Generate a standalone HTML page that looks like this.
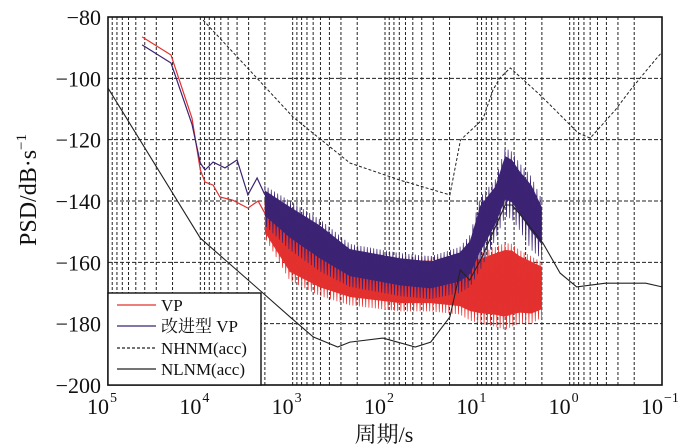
<!DOCTYPE html>
<html><head><meta charset="utf-8">
<style>
html,body{margin:0;padding:0;background:#fff;}
svg{display:block;}
text{font-family:"Liberation Serif","Noto Serif CJK SC","Noto Sans CJK SC",serif;fill:#111;}
</style></head>
<body>
<svg id="chart" width="700" height="448" viewBox="0 0 700 448"></svg>
<script>
// ---- data ----
const yTicks = [-80,-100,-120,-140,-160,-180,-200];
const xTickExps = [5,4,3,2,1,0,-1];
const vpLinePeriods = [42700,20800,12300,10000,8900,7270,6140,4480,3050,2370,2000];
const vpLineDb = [-86.5,-92.4,-113,-129.9,-133.8,-134.8,-138.7,-139.7,-142.3,-140,-144];
const ivpLinePeriods = [42700,20800,12300,10000,8900,7270,5400,4000,3050,2430,2000];
const ivpLineDb = [-89.1,-95,-115,-127.6,-129.9,-127.3,-129.2,-126.6,-138,-132.5,-138];
const bandPeriods = [2000,1070,505,240,69,32,15.5,12,9.3,6.4,5.0,4.2,3.5,2.6,2.0];
const vpUpper = [-140,-147,-152,-156,-158,-158,-159,-158,-157,-155,-153.7,-154,-156,-158,-160];
const vpLower = [-152,-166,-171,-174,-176,-176,-177,-179,-180,-181,-182,-181,-180,-180,-178];
const ivpUpper = [-135,-140,-146,-154,-157,-158,-155,-151,-138.7,-133,-122.7,-124,-127.6,-132,-139.7];
const ivpLower = [-148,-156,-163,-168,-171,-172,-170,-168,-162.5,-152.7,-145,-146,-149.5,-156,-159];
const nhnmPeriods = [9340,991,240,69,19.8,15.2,8.7,6.76,5.7,4.4,2.0,0.81,0.6,0.32,0.22,0.14,0.1];
const nhnmDb = [-81,-112.6,-127.6,-133.2,-138,-120.1,-113.3,-103.8,-99.9,-96.6,-106,-117.8,-119.5,-110.3,-103.8,-96.6,-91.4];
const nlnmPeriods = [100000,10000,2100,1070,600,325,240,105,47,32,19.8,15.3,12.1,8.9,5.0,4.2,3.4,1.95,1.27,0.84,0.41,0.15,0.1];
const nlnmDb = [-103.2,-152.1,-170,-177.8,-184.3,-187.6,-186,-184.7,-187.6,-186,-177.8,-162.5,-165.8,-158.3,-141.3,-141.3,-144.6,-153.7,-163.5,-168,-166.8,-166.8,-168];

// ---- layout ----
const L=108,R=662,T=17,B=385;
const NS='http://www.w3.org/2000/svg';
const svg=document.getElementById('chart');
function X(p){return L+(5-Math.log10(p))*(R-L)/6;}
function Y(v){return T+(-80-v)*(B-T)/120;}
function mk(tag,attrs,parent){const e=document.createElementNS(NS,tag);for(const k in attrs)e.setAttribute(k,attrs[k]);(parent||svg).appendChild(e);return e;}

const grid=mk('g',{});


for(let e=5;e>-1;e--){
  for(let m=1;m<10;m++){
    const p=m*Math.pow(10,e-1);
    const x=X(p);
    if(x<=L+0.5||x>=R-0.5)continue;
    const ln=mk('line',{x1:x,x2:x,y1:T,y2:B,stroke:'#222','stroke-width':1,'stroke-dasharray':'3,2'},grid);
    
    
  }
}
yTicks.forEach(v=>{
  const y=Y(v);
  if(v===-80||v===-200)return;
  const ln=mk('line',{x1:L,x2:R,y1:y,y2:y,stroke:'#222','stroke-width':1,'stroke-dasharray':'4,2'},grid);
  
  
});

function interp(arrX,arrY,lx){
  for(let i=0;i<arrX.length-1;i++){
    const a=Math.log10(arrX[i]),b=Math.log10(arrX[i+1]);
    if(lx<=a&&lx>=b){const t=(a-lx)/(a-b);return arrY[i]+t*(arrY[i+1]-arrY[i]);}
  }
  return arrY[arrY.length-1];
}
function drawBand(up,lo,color,name,fu,fl){
  const g=mk('g',{});
  
  
  let pts=[];
  bandPeriods.forEach((p,i)=>pts.push(X(p)+','+Y(up[i]+(lo[i]-up[i])*fu)));
  for(let i=bandPeriods.length-1;i>=0;i--)pts.push(X(bandPeriods[i])+','+Y(lo[i]-(lo[i]-up[i])*fl));
  const poly=mk('polygon',{points:pts.join(' '),fill:color,stroke:'none'},g);
  
  
  const x0=X(bandPeriods[0]),x1=X(bandPeriods[bandPeriods.length-1]);
  let d='';let k=0;
  for(let x=x0;x<=x1;x+=1.6,k++){
    const lp=5-(x-L)*6/(R-L);
    const u=interp(bandPeriods,up,lp),l=interp(bandPeriods,lo,lp);
    const v=(k%2===0)?u:l;
    d+=(k===0?'M':'L')+x.toFixed(1)+','+Y(v).toFixed(1);
  }
  const zz=mk('path',{d:d,fill:'none',stroke:color,'stroke-width':0.7},g);
  
  
}
function pathFrom(ps,vs){return ps.map((p,i)=>(i?'L':'M')+X(p).toFixed(1)+','+Y(vs[i]).toFixed(1)).join('');}

drawBand(vpUpper,vpLower,'#e3312f','vp-band',0.08,0.15);
const vpL=mk('path',{d:pathFrom(vpLinePeriods,vpLineDb),fill:'none',stroke:'#e3312f','stroke-width':1.2});


drawBand(ivpUpper,ivpLower,'#3c2373','improved-vp-band',0.12,0.25);
const ivL=mk('path',{d:pathFrom(ivpLinePeriods,ivpLineDb),fill:'none',stroke:'#3c2373','stroke-width':1.2});



const nh=mk('path',{d:pathFrom(nhnmPeriods,nhnmDb),fill:'none',stroke:'#222','stroke-width':1,'stroke-dasharray':'3,2'});


const nl=mk('path',{d:pathFrom(nlnmPeriods,nlnmDb),fill:'none',stroke:'#222','stroke-width':1.1});



const fr=mk('rect',{x:L,y:T,width:R-L,height:B-T,fill:'none',stroke:'#111','stroke-width':1.6});



yTicks.forEach(v=>{
  const t=mk('text',{x:101,y:Y(v)+8,'text-anchor':'end','font-size':22});
  t.textContent='\u2212'+Math.abs(v);
  
  
});
xTickExps.forEach(e=>{
  const x=X(Math.pow(10,e));
  const t=mk('text',{x:x-10,y:414,'text-anchor':'middle','font-size':22});
  t.textContent='10';
  
  
  const s=mk('text',{x:x+2,y:402,'text-anchor':'start','font-size':14});
  s.textContent=e<0?'\u2212'+Math.abs(e):String(e);
  
  
});

const lg=mk('g',{});


const lb=mk('rect',{x:L,y:293,width:153,height:92,fill:'#fff',stroke:'#111','stroke-width':1.4},lg);


const entries=[['VP','#e3312f',null,305],['改进型 VP','#3c2373',null,326],['NHNM(acc)','#222','3,2',348],['NLNM(acc)','#222',null,369]];
entries.forEach(en=>{
  const a={x1:117,x2:156,y1:en[3],y2:en[3],stroke:en[1],'stroke-width':1.2};
  if(en[2])a['stroke-dasharray']=en[2];
  const ln=mk('line',a,lg);
  
  
  const t=mk('text',{x:161,y:en[3]+6,'font-size':17},lg);
  t.textContent=en[0];
  
  
});

const yt=mk('text',{x:0,y:0,'font-size':24,'text-anchor':'middle',transform:'translate(36,190) rotate(-90)'});
yt.innerHTML='PSD/dB·s<tspan dy="-10" font-size="15">−1</tspan>';


const xt=mk('text',{x:384,y:442,'font-size':22,'text-anchor':'middle'});
xt.textContent='周期/s';


</script>
</body></html>
